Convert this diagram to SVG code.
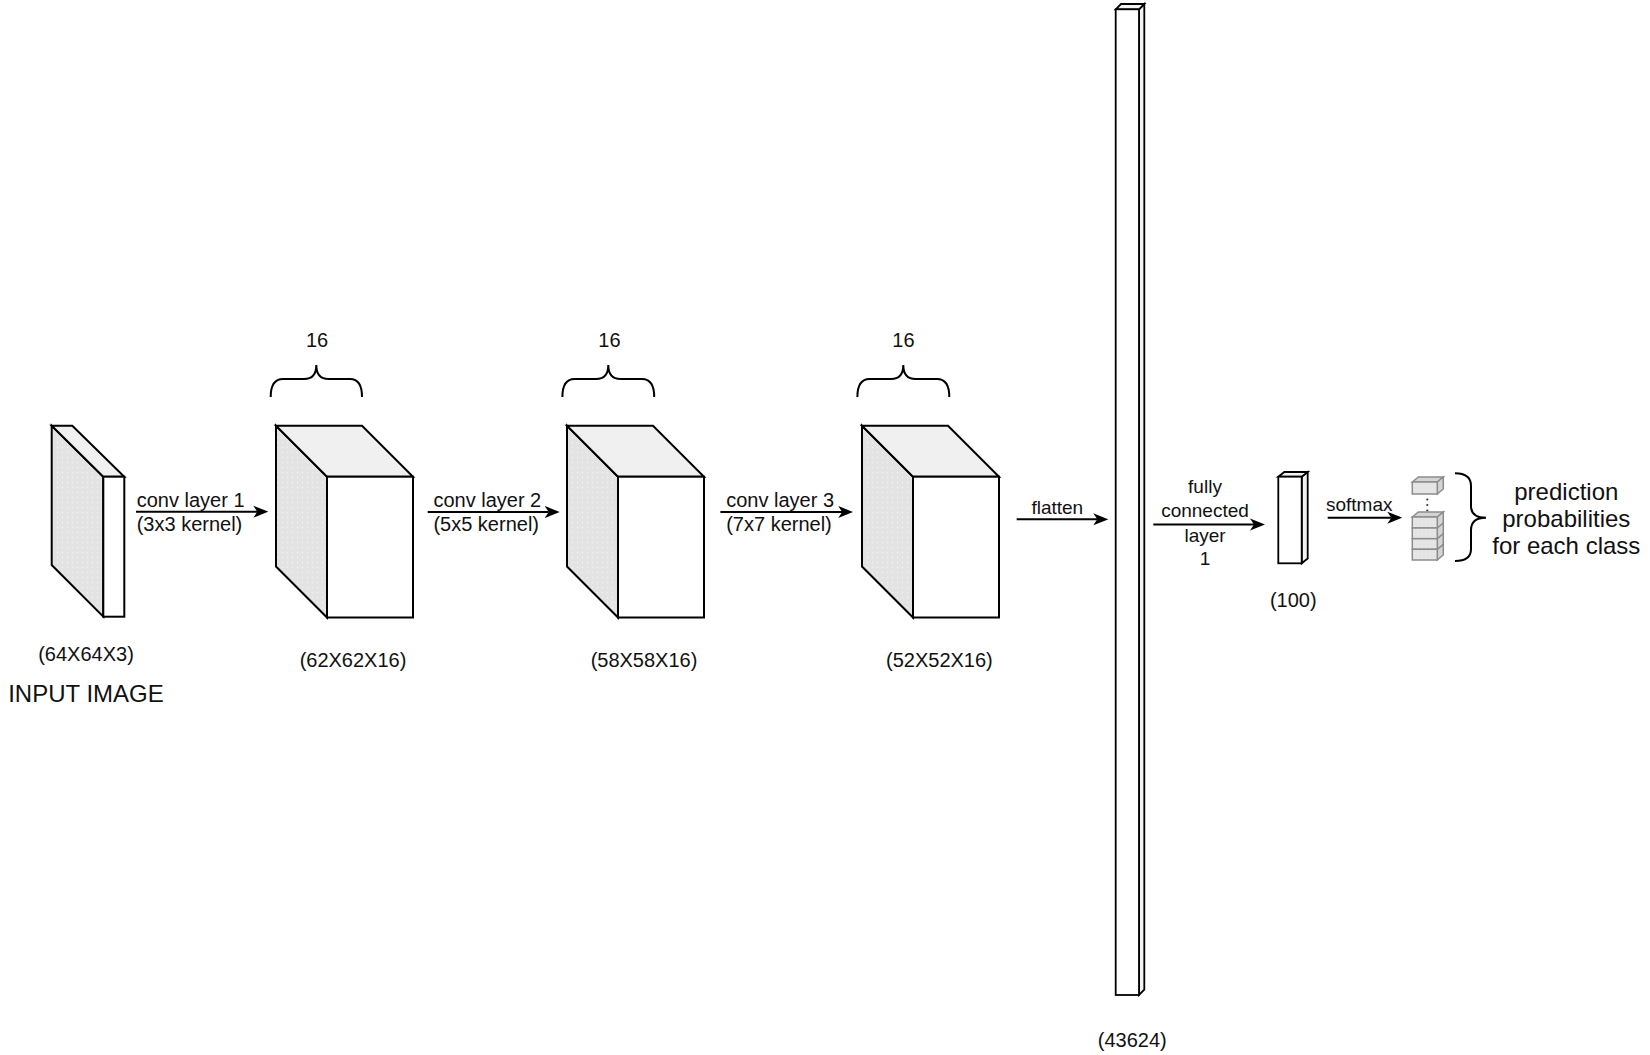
<svg xmlns="http://www.w3.org/2000/svg" width="1650" height="1055" viewBox="0 0 1650 1055">
  <defs>
    <pattern id="dots" width="5" height="5" patternUnits="userSpaceOnUse">
      <rect width="5" height="5" fill="#e3e3e3"/>
      <circle cx="2.5" cy="2.5" r="0.7" fill="#f3f3f3"/>
    </pattern>
    <pattern id="dots2" width="4" height="4" patternUnits="userSpaceOnUse">
      <rect width="4" height="4" fill="#e4e4e4"/>
      <circle cx="2" cy="2" r="0.6" fill="#f4f4f4"/>
    </pattern>
    <marker id="arr" viewBox="0 0 15 14" refX="4" refY="7" markerWidth="15" markerHeight="14" markerUnits="userSpaceOnUse" orient="auto">
      <path d="M0,1 L15,7 L0,13 L4,7 Z" fill="#000"/>
    </marker>
  </defs>
  <style>
    .side { fill: url(#dots); stroke: #000; stroke-width: 2; stroke-linejoin: miter; }
    .top { fill: #f0f0f0; stroke: #000; stroke-width: 2; }
    .front { fill: #fff; stroke: #000; stroke-width: 2; }
    .thin { fill: #fff; stroke: #000; stroke-width: 1.8; }
    .thinside { fill: #f2f2f2; stroke: #000; stroke-width: 1.8; }
    .brace { fill: none; stroke: #000; stroke-width: 2; }
    .conn { fill: none; stroke: #000; stroke-width: 2; marker-end: url(#arr); }
    .sbox { fill: url(#dots2); stroke: #8c8c8c; stroke-width: 1.5; }
    .sside { fill: #d4d4d4; stroke: #8c8c8c; stroke-width: 1.5; }
    text { font-family: "Liberation Sans", Arial, Helvetica, sans-serif; fill: #111; }
    .lbl { font-size: 20px; text-anchor: middle; }
    .al { font-size: 20px; }
    .as { font-size: 19px; }
    .alc { font-size: 19px; text-anchor: middle; }
    .big { font-size: 24px; text-anchor: middle; }
  </style>

  <rect width="1650" height="1055" fill="#fff"/>

  <!-- Input image -->
  <g id="input">
    <polygon class="side" points="51.7,425.7 103.3,476.7 103.3,616.7 51.7,565"/>
    <polygon class="top" points="51.7,425.7 72.3,425.7 124.3,476.7 103.3,476.7"/>
    <rect class="front" x="103.3" y="476.7" width="21" height="140"/>
    <text class="lbl" x="86" y="660.7">(64X64X3)</text>
    <text class="big" x="86" y="701.7">INPUT IMAGE</text>
  </g>

  <!-- Conv output 1 -->
  <g id="conv1">
    <polygon class="side" points="276,425.7 327,476.7 327,617.5 276,566.5"/>
    <polygon class="top" points="276,425.7 362,425.7 413,476.7 327,476.7"/>
    <rect class="front" x="327" y="476.7" width="86" height="140.8"/>
    <path class="brace" d="M270.7,397 Q270.7,379 283,379 L304,379 Q316.3,379 316.3,365 Q316.3,379 328.6,379 L350,379 Q362,379 362,397"/>
    <text class="lbl" x="317" y="347">16</text>
    <text class="lbl" x="353" y="667">(62X62X16)</text>
  </g>

  <!-- Conv output 2 -->
  <g id="conv2">
    <polygon class="side" points="567,425.7 618,476.7 618,617.5 567,566.5"/>
    <polygon class="top" points="567,425.7 653,425.7 704,476.7 618,476.7"/>
    <rect class="front" x="618" y="476.7" width="86" height="140.8"/>
    <path class="brace" d="M562.4,397 Q562.4,379 574.6,379 L596,379 Q608.3,379 608.3,365 Q608.3,379 620.6,379 L642,379 Q654.2,379 654.2,397"/>
    <text class="lbl" x="609.4" y="347">16</text>
    <text class="lbl" x="644" y="667">(58X58X16)</text>
  </g>

  <!-- Conv output 3 -->
  <g id="conv3">
    <polygon class="side" points="862,425.7 913,476.7 913,617.5 862,566.5"/>
    <polygon class="top" points="862,425.7 948,425.7 999,476.7 913,476.7"/>
    <rect class="front" x="913" y="476.7" width="86" height="140.8"/>
    <path class="brace" d="M857.4,397 Q857.4,379 869.6,379 L891,379 Q903.3,379 903.3,365 Q903.3,379 915.6,379 L937,379 Q949.3,379 949.3,397"/>
    <text class="lbl" x="903.4" y="347">16</text>
    <text class="lbl" x="939.4" y="667">(52X52X16)</text>
  </g>

  <!-- Flatten vector -->
  <g id="flat">
    <polygon class="thinside" points="1139,9.3 1144.3,4 1144.3,989.7 1139,995"/>
    <polygon class="thinside" points="1115.7,9.3 1121,4 1144.3,4 1139,9.3"/>
    <rect class="thin" x="1115.7" y="9.3" width="23.3" height="985.7"/>
    <text class="lbl" x="1132.3" y="1047.3">(43624)</text>
  </g>

  <!-- Fully connected output -->
  <g id="fc">
    <polygon class="thinside" points="1301.7,476.7 1307.7,472 1307.7,558.5 1301.7,563.3"/>
    <polygon class="thinside" points="1278.3,476.7 1284.3,472 1307.7,472 1301.7,476.7"/>
    <rect class="thin" x="1278.3" y="476.7" width="23.4" height="86.6"/>
    <text class="lbl" x="1293.3" y="606.7">(100)</text>
  </g>

  <!-- Softmax output -->
  <g id="softmax-out">
    <polygon class="sside" points="1412.3,482 1418.3,477 1443.3,477 1437.3,482"/>
    <polygon class="sside" points="1437.3,482 1443.3,477 1443.3,489 1437.3,494"/>
    <rect class="sbox" x="1412.3" y="482" width="25" height="12"/>
    <circle cx="1427.3" cy="499.5" r="1.1" fill="#333"/>
    <circle cx="1427.3" cy="505" r="1.1" fill="#333"/>
    <circle cx="1427.3" cy="510.5" r="1.1" fill="#333"/>
    <polygon class="sside" points="1412.3,517 1418.3,512 1443.3,512 1437.3,517"/>
    <polygon class="sside" points="1437.3,517 1443.3,512 1443.3,555 1437.3,560"/>
    <rect class="sbox" x="1412.3" y="517" width="25" height="11"/>
    <rect class="sbox" x="1412.3" y="528" width="25" height="10.7"/>
    <rect class="sbox" x="1412.3" y="538.7" width="25" height="10.6"/>
    <rect class="sbox" x="1412.3" y="549.3" width="25" height="10.7"/>
    <path d="M1437.3,528 L1443.3,523 M1437.3,538.7 L1443.3,533.7 M1437.3,549.3 L1443.3,544.3" stroke="#8c8c8c" stroke-width="1.5" fill="none"/>
    <path class="brace" d="M1455,473.3 Q1471,473.3 1471,486 L1471,506 Q1471,517.7 1486,517.7 Q1471,517.7 1471,530 L1471,549 Q1471,561 1455,561"/>
    <text class="big" x="1566.3" y="500">prediction</text>
    <text class="big" x="1566.3" y="527">probabilities</text>
    <text class="big" x="1566.3" y="554">for each class</text>
  </g>

  <!-- Connectors -->
  <g id="connectors">
    <line class="conn" x1="136" y1="511.7" x2="257.3" y2="511.7"/>
    <text class="al" x="136.7" y="507">conv layer 1</text>
    <text class="al" x="136.7" y="531">(3x3 kernel)</text>

    <line class="conn" x1="427.7" y1="512" x2="548.7" y2="512"/>
    <text class="al" x="433.4" y="507">conv layer 2</text>
    <text class="al" x="433.4" y="531">(5x5 kernel)</text>

    <line class="conn" x1="720.4" y1="512" x2="842.2" y2="512"/>
    <text class="al" x="726.2" y="507">conv layer 3</text>
    <text class="al" x="726.2" y="531">(7x7 kernel)</text>

    <line class="conn" x1="1016.7" y1="519.3" x2="1097.3" y2="519.3"/>
    <text class="alc" x="1057.3" y="514">flatten</text>

    <line class="conn" x1="1153.3" y1="524.5" x2="1254" y2="524.5"/>
    <text class="alc" x="1205" y="493.3">fully</text>
    <text class="alc" x="1205" y="517.3">connected</text>
    <text class="alc" x="1205" y="541.7">layer</text>
    <text class="alc" x="1205" y="565">1</text>

    <line class="conn" x1="1327.7" y1="517.7" x2="1391.3" y2="517.7"/>
    <text class="as" x="1326" y="510.7">softmax</text>
  </g>
</svg>
